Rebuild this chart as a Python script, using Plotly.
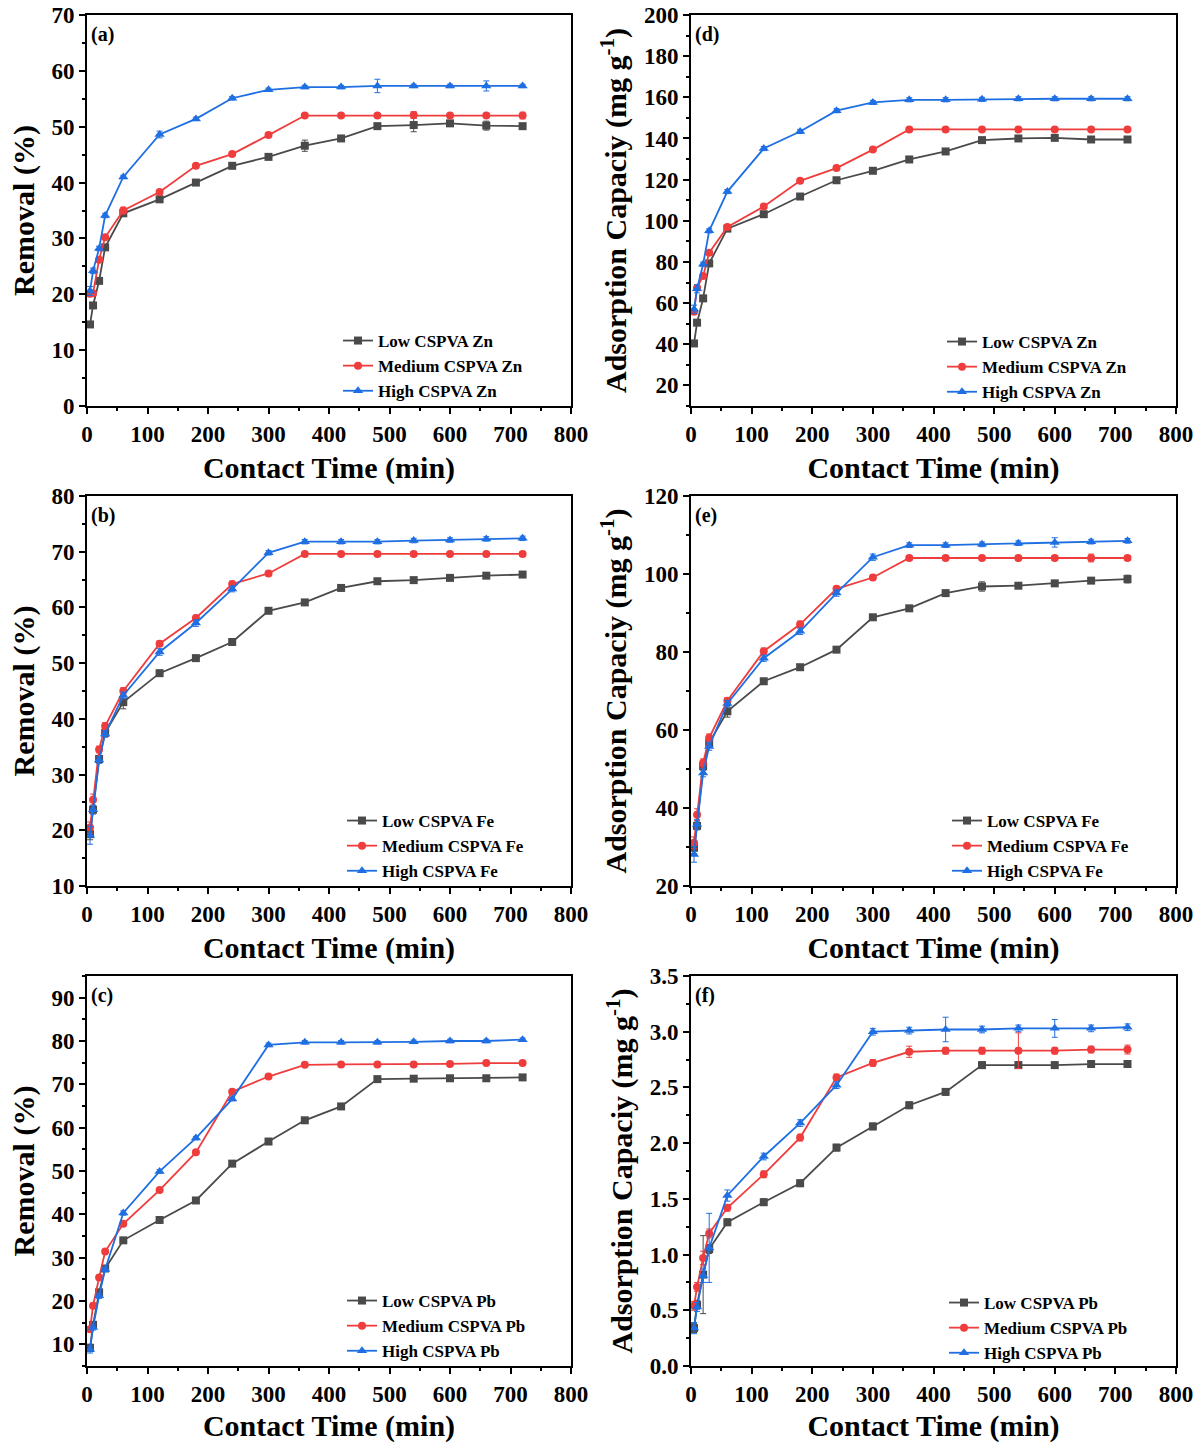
import plotly.graph_objects as go

# ---------------- data ----------------
time_min = [5, 10, 20, 30, 60, 120, 180, 240, 300, 360, 420, 480, 540, 600, 660, 720]
series_names = ["Low CSPVA", "Medium CSPVA", "High CSPVA"]

# (a) Zn removal (%)
zn_rem_low = [14.6, 18.0, 22.4, 28.4, 34.5, 37.0, 40.0, 43.0, 44.6, 46.6, 47.9, 50.1, 50.3, 50.6, 50.2, 50.1]
zn_rem_med = [20.1, 20.2, 26.2, 30.2, 35.0, 38.3, 43.0, 45.1, 48.5, 52.0, 52.0, 52.0, 52.1, 52.0, 52.0, 52.0]
zn_rem_high = [20.6, 24.2, 28.2, 34.1, 41.0, 48.6, 51.4, 55.1, 56.6, 57.1, 57.1, 57.3, 57.3, 57.3, 57.3, 57.3]
zn_rem_low_err = [0.3, 0.3, 0.4, 0.5, 0.4, 0.3, 0.3, 0.3, 0.3, 1.0, 0.3, 0.3, 1.2, 0.3, 0.8, 0.3]
zn_rem_med_err = [0.5, 0.3, 0.4, 0.3, 0.6, 0.3, 0.3, 0.3, 0.3, 0.3, 0.3, 0.3, 0.6, 0.3, 0.3, 0.6]
zn_rem_high_err = [0.8, 0.5, 0.4, 0.4, 0.3, 0.6, 0.3, 0.3, 0.3, 0.3, 0.3, 1.2, 0.3, 0.3, 0.9, 0.3]

# (d) Zn adsorption capacity (mg/g)
zn_cap_low = [40.4, 50.5, 62.3, 79.3, 96.2, 103.2, 111.8, 119.7, 124.3, 129.8, 133.7, 139.2, 140.0, 140.3, 139.5, 139.5]
zn_cap_med = [55.8, 67.5, 73.2, 84.5, 97.0, 106.9, 119.4, 125.6, 134.6, 144.4, 144.4, 144.4, 144.4, 144.4, 144.4, 144.4]
zn_cap_high = [57.0, 67.0, 78.9, 95.1, 114.2, 135.1, 143.4, 153.5, 157.5, 158.8, 158.8, 159.0, 159.3, 159.3, 159.3, 159.3]
zn_cap_low_err = [0.8, 0.8, 0.8, 0.8, 0.8, 0.8, 0.8, 0.8, 0.8, 0.8, 0.8, 0.8, 0.8, 0.8, 0.8, 0.8]
zn_cap_med_err = [1.0, 1.0, 1.0, 1.0, 1.0, 1.0, 1.0, 1.0, 1.0, 1.0, 1.0, 1.0, 1.0, 1.0, 1.0, 1.0]
zn_cap_high_err = [2.0, 2.0, 1.0, 1.0, 1.0, 1.0, 1.0, 1.0, 1.0, 1.0, 1.0, 1.0, 1.0, 1.0, 1.0, 1.0]

# (b) Fe removal (%)
fe_rem_low = [19.3, 23.7, 32.8, 37.5, 43.0, 48.2, 50.9, 53.8, 59.4, 60.9, 63.5, 64.7, 64.9, 65.3, 65.7, 65.9]
fe_rem_med = [20.5, 25.5, 34.5, 38.7, 45.0, 53.5, 58.1, 64.2, 66.1, 69.6, 69.6, 69.6, 69.6, 69.6, 69.6, 69.6]
fe_rem_high = [19.1, 23.7, 32.6, 37.3, 44.2, 52.0, 57.2, 63.3, 69.8, 71.8, 71.8, 71.8, 72.0, 72.1, 72.3, 72.4]
fe_rem_low_err = [1.0, 0.6, 0.6, 0.6, 1.2, 0.5, 0.4, 0.4, 0.4, 0.4, 0.4, 0.4, 0.4, 0.4, 0.4, 0.4]
fe_rem_med_err = [1.0, 1.0, 0.6, 0.6, 0.6, 0.5, 0.5, 0.5, 0.4, 0.4, 0.4, 0.4, 0.4, 0.4, 0.4, 0.4]
fe_rem_high_err = [1.6, 0.8, 0.6, 0.6, 0.6, 0.6, 0.6, 0.5, 0.4, 0.4, 0.4, 0.4, 0.4, 0.4, 0.4, 0.4]

# (e) Fe adsorption capacity (mg/g)
fe_cap_low = [29.8, 35.4, 50.7, 56.7, 64.8, 72.5, 76.1, 80.6, 88.9, 91.2, 95.1, 96.8, 97.0, 97.6, 98.3, 98.7]
fe_cap_med = [31.1, 38.3, 51.6, 58.0, 67.5, 80.2, 87.1, 96.2, 99.1, 104.1, 104.1, 104.1, 104.1, 104.1, 104.1, 104.1]
fe_cap_high = [28.1, 35.8, 49.0, 55.8, 66.8, 78.4, 85.3, 95.1, 104.3, 107.4, 107.4, 107.6, 107.9, 108.1, 108.3, 108.5]
fe_cap_low_err = [1.5, 1.0, 1.0, 1.0, 1.5, 0.6, 0.6, 0.6, 0.6, 0.6, 0.6, 1.2, 0.6, 0.6, 0.6, 1.0]
fe_cap_med_err = [1.5, 1.5, 1.0, 1.0, 0.8, 0.8, 0.8, 0.6, 0.6, 0.6, 0.6, 0.6, 0.6, 0.6, 1.0, 0.6]
fe_cap_high_err = [2.0, 1.2, 1.0, 1.0, 0.8, 0.8, 0.8, 0.8, 0.8, 0.6, 0.6, 0.6, 0.6, 1.2, 0.6, 0.6]

# (c) Pb removal (%)
pb_rem_low = [9.2, 14.5, 22.0, 27.5, 34.0, 38.7, 43.2, 51.7, 56.8, 61.7, 64.9, 71.2, 71.3, 71.4, 71.4, 71.6]
pb_rem_med = [13.5, 18.9, 25.4, 31.4, 37.8, 45.6, 54.3, 68.3, 71.8, 74.5, 74.6, 74.6, 74.6, 74.7, 74.9, 74.9]
pb_rem_high = [8.8, 13.9, 21.2, 27.3, 40.3, 49.9, 57.6, 66.6, 79.1, 79.7, 79.7, 79.7, 79.8, 80.0, 80.0, 80.3]
pb_rem_low_err = [0.8, 0.6, 0.5, 0.5, 0.4, 0.4, 0.4, 0.4, 0.4, 0.4, 0.4, 0.4, 0.4, 0.4, 0.4, 0.4]
pb_rem_med_err = [0.6, 0.6, 0.5, 0.5, 0.4, 0.4, 0.4, 0.4, 0.4, 0.4, 0.4, 0.4, 0.4, 0.4, 0.4, 0.4]
pb_rem_high_err = [0.8, 0.6, 0.6, 0.5, 0.5, 0.4, 0.4, 0.4, 0.4, 0.4, 0.4, 0.4, 0.4, 0.4, 0.4, 0.4]

# (f) Pb adsorption capacity (mg/g)
pb_cap_low = [0.34, 0.55, 0.82, 1.05, 1.29, 1.47, 1.64, 1.96, 2.15, 2.34, 2.46, 2.70, 2.70, 2.70, 2.71, 2.71]
pb_cap_med = [0.54, 0.71, 0.97, 1.19, 1.42, 1.72, 2.05, 2.59, 2.72, 2.82, 2.83, 2.83, 2.83, 2.83, 2.84, 2.84]
pb_cap_high = [0.34, 0.53, 0.81, 1.06, 1.53, 1.88, 2.18, 2.52, 3.00, 3.01, 3.02, 3.02, 3.03, 3.03, 3.03, 3.04]
pb_cap_low_err = [0.04, 0.04, 0.35, 0.04, 0.03, 0.03, 0.03, 0.03, 0.03, 0.03, 0.03, 0.03, 0.03, 0.03, 0.03, 0.03]
pb_cap_med_err = [0.04, 0.04, 0.06, 0.04, 0.03, 0.03, 0.03, 0.03, 0.03, 0.05, 0.03, 0.03, 0.16, 0.03, 0.03, 0.04]
pb_cap_high_err = [0.05, 0.04, 0.06, 0.31, 0.05, 0.03, 0.03, 0.03, 0.03, 0.03, 0.11, 0.03, 0.03, 0.08, 0.03, 0.03]

# ---------------- style ----------------
COLORS = ["#4a4a4a", "#ef3d3d", "#1f6fe3"]
SYMBOLS = ["square", "circle", "triangle-up"]
MSIZE = [8, 8, 9]
FONT = "Liberation Serif, Times New Roman, serif"
OFF = 0                      # body margin removed by post_script below
W, H = 1199 - OFF, 1443 - OFF

panels = [
    ("(a)", "Zn", [zn_rem_low, zn_rem_med, zn_rem_high], [zn_rem_low_err, zn_rem_med_err, zn_rem_high_err],
     [0, 70], 10, 5, "Removal (%)", "d", (87, 571, 15, 406), (338, 323)),
    ("(d)", "Zn", [zn_cap_low, zn_cap_med, zn_cap_high], [zn_cap_low_err, zn_cap_med_err, zn_cap_high_err],
     [10, 200], 20, 10, "Adsorption Capaciy (mg g<sup>-1</sup>)", "d", (691, 1176, 15, 406), (942, 324)),
    ("(b)", "Fe", [fe_rem_low, fe_rem_med, fe_rem_high], [fe_rem_low_err, fe_rem_med_err, fe_rem_high_err],
     [10, 80], 10, 5, "Removal (%)", "d", (87, 571, 496, 886), (342, 803)),
    ("(e)", "Fe", [fe_cap_low, fe_cap_med, fe_cap_high], [fe_cap_low_err, fe_cap_med_err, fe_cap_high_err],
     [20, 120], 20, 10, "Adsorption Capaciy (mg g<sup>-1</sup>)", "d", (691, 1176, 496, 886), (947, 803)),
    ("(c)", "Pb", [pb_rem_low, pb_rem_med, pb_rem_high], [pb_rem_low_err, pb_rem_med_err, pb_rem_high_err],
     [5, 95], 10, 5, "Removal (%)", "d", (87, 571, 976, 1366), (342, 1283)),
    ("(f)", "Pb", [pb_cap_low, pb_cap_med, pb_cap_high], [pb_cap_low_err, pb_cap_med_err, pb_cap_high_err],
     [0, 3.5], 0.5, 0.25, "Adsorption Capaciy (mg g<sup>-1</sup>)", ".1f", (691, 1176, 976, 1366), (944, 1285)),
]


def px_x(p):
    return (p - OFF) / W


def px_y(p):
    return 1 - (p - OFF) / H


fig = go.Figure()
layout_updates = {}
annotations = []

for i, (label, metal, vals, errs, yr, dt, mdt, ytitle, tfmt, box, leg) in enumerate(panels):
    n = i + 1
    xa = "x" if n == 1 else f"x{n}"
    ya = "y" if n == 1 else f"y{n}"
    lg = "legend" if n == 1 else f"legend{n}"
    for k in range(3):
        fig.add_trace(go.Scatter(
            x=time_min, y=vals[k], xaxis=xa, yaxis=ya, legend=lg,
            name=f"{series_names[k]} {metal}", mode="lines+markers",
            line=dict(color=COLORS[k], width=1.8),
            marker=dict(symbol=SYMBOLS[k], size=MSIZE[k], color=COLORS[k]),
            error_y=dict(type="data", array=errs[k], visible=True, color=COLORS[k], thickness=1, width=3),
        ))
    x0, x1, yt, yb = box
    xkey = "xaxis" if n == 1 else f"xaxis{n}"
    ykey = "yaxis" if n == 1 else f"yaxis{n}"
    axis_common = dict(
        showline=True, linecolor="black", linewidth=2, mirror=True,
        ticks="outside", ticklen=6, tickwidth=1.5, tickcolor="black",
        showgrid=False, zeroline=False, automargin=False, ticklabeloverflow="allow",
        tickfont=dict(family=FONT, size=23, color="black", weight="bold"),
    )
    layout_updates[xkey] = dict(
        axis_common, domain=[px_x(x0), px_x(x1)], anchor=ya, range=[0, 800],
        tick0=0, dtick=100,
        minor=dict(ticks="outside", ticklen=3, tickwidth=1.5, tickcolor="black", dtick=50, tick0=0),
        title=dict(text="Contact Time (min)", standoff=11,
                   font=dict(family=FONT, size=30, color="black", weight="bold")),
    )
    layout_updates[ykey] = dict(
        axis_common, domain=[px_y(yb), px_y(yt)], anchor=xa, range=yr,
        tick0=0, dtick=dt, tickformat=tfmt,
        minor=dict(ticks="outside", ticklen=3, tickwidth=1.5, tickcolor="black", dtick=mdt, tick0=0),
        title=dict(text=ytitle, standoff=8,
                   font=dict(family=FONT, size=30, color="black", weight="bold")),
    )
    layout_updates[lg] = dict(
        x=px_x(leg[0]), y=px_y(leg[1]), xanchor="left", yanchor="top",
        xref="paper", yref="paper", bgcolor="rgba(0,0,0,0)", borderwidth=0,
        font=dict(family=FONT, size=17, color="black", weight="bold"),
        tracegroupgap=0,
    )
    annotations.append(dict(
        text=label, xref=f"{xa} domain", yref=f"{ya} domain", x=0.005, y=0.985,
        xanchor="left", yanchor="top", showarrow=False,
        font=dict(family=FONT, size=20, color="black", weight="bold"),
    ))

fig.update_layout(
    width=W, height=H, margin=dict(l=0, r=0, t=0, b=0),
    paper_bgcolor="white", plot_bgcolor="white",
    annotations=annotations, showlegend=True,
    **layout_updates,
)

fig.write_html("out.html", config={"displayModeBar": False},
               post_script="document.body.style.margin='0px';")
